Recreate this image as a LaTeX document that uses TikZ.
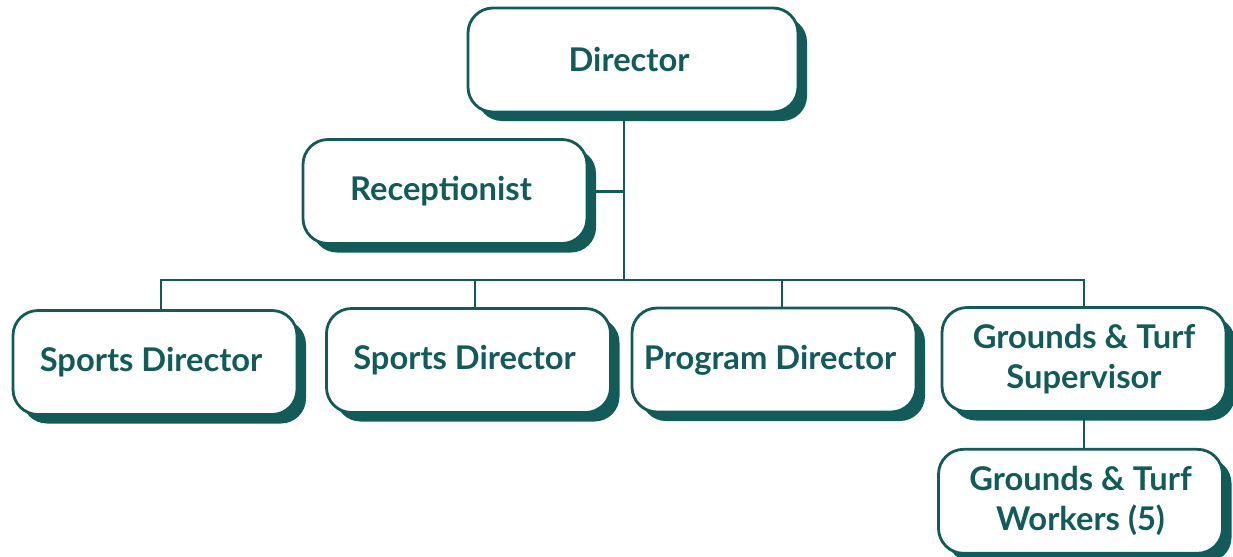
\documentclass[tikz,border=0pt]{standalone}
\usepackage{fontspec}
\setmainfont{Lato}
\usetikzlibrary{positioning,shadows}

\definecolor{teal}{HTML}{115B59}

\begin{document}
\begin{tikzpicture}
[
    node distance = 3.5mm and 14mm,
    box/.style  = {rectangle,
                   rounded corners=2.5mm,
                   minimum width=2.84cm,
                   minimum height=1.04cm,
                   draw=teal,
                   line width=0.8pt,
                   fill=white,
                   align=center,
                   text=teal,
                   font=\fontsize{9.3}{11.4}\selectfont\bfseries,
                   drop shadow={shadow xshift=0.09cm,
                                shadow yshift=-0.09cm,
                                fill=teal,
                                opacity=1}},
    conn/.style = {draw=teal,
                   line width=0.8pt}
]
\useasboundingbox (0,0) rectangle (12.33,5.56);

\node (dir) [box, minimum width=3.3cm] at (6.33,4.96) {
Director
};

\node (rec) [box] at (4.45,3.645) {
Receptionist
};

\node (sd1) [box] at (1.55,1.935) {
Sports Director
};

\node (sd2) [box] at (4.685,1.955) {
Sports Director
};

\node (pd) [box] at (7.74,1.96) {
Program Director
};

\node (gts) [box] at (10.84,1.965) {
Grounds \& Turf\\Supervisor
};

\node (gtw) [box, below=of gts, xshift=-0.35mm] {
Grounds \& Turf\\Workers (5)
};

% bus line below the receptionist
\coordinate (bus) at (6.24,2.76);

\draw[conn] (bus) -- (bus |- dir.south);
\draw[conn] (rec) -- (bus |- rec.east);
\draw[conn] (bus) -| ([xshift=0.06cm]sd1.north);
\draw[conn] (bus) -| ([xshift=0.065cm]sd2.north);
\draw[conn] (bus) -| ([xshift=0.08cm]pd.north);
\draw[conn] (bus) -| (gts);
\draw[conn] (gts) -- (gts |- gtw.north);

\end{tikzpicture}
\end{document}
